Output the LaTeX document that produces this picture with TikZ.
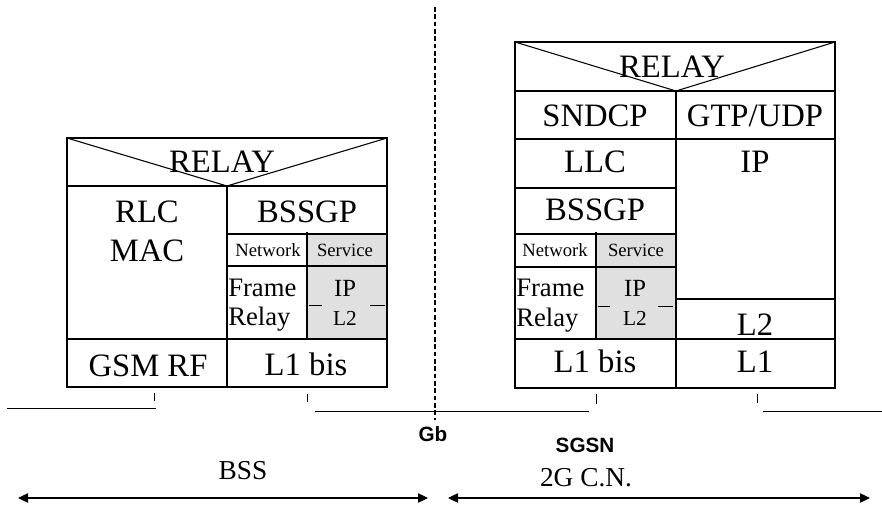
\documentclass[tikz,border=0pt]{standalone}
\usepackage{fontspec}
\setmainfont{Liberation Serif}
\newfontfamily\arialfont{Liberation Sans}
\usetikzlibrary{arrows.meta}
\definecolor{svcgray}{RGB}{224,224,224}
\tikzset{
  box/.style={draw, line width=0.8pt},
  thin/.style={draw, line width=0.75pt},
  txt/.style={anchor=base, inner sep=0pt},
  big/.style={txt, font=\fontsize{24.5pt}{28pt}\selectfont},
  mid/.style={txt, font=\fontsize{20pt}{22pt}\selectfont},
  ipf/.style={txt, font=\fontsize{18.5pt}{20pt}\selectfont},
  ltwo/.style={txt, font=\fontsize{16pt}{18pt}\selectfont},
  small/.style={txt, font=\fontsize{14pt}{16pt}\selectfont},
  lab/.style={txt, font=\fontsize{20.5pt}{24pt}\selectfont},
  sanslab/.style={anchor=center, inner sep=0pt, font=\arialfont\bfseries\fontsize{15.5pt}{18pt}\selectfont},
  span/.style={line width=0.9pt, {Triangle[length=7.5pt,width=7pt]}-{Triangle[length=7.5pt,width=7pt]}}
}
\begin{document}
\begin{tikzpicture}[x=0.75pt,y=-0.75pt]
\useasboundingbox (0,0) rectangle (882,513);

% ---------- left stack (BSS) ----------
\fill[svcgray] (307,234) rectangle (387,339);
\draw[box] (67,138) rectangle (387,387);
\draw[box] (67,186) -- (387,186);
\draw[box] (67,138) -- (227,186) -- (387,138);
\draw[box] (227,186) -- (227,387);
\draw[box] (227,234) -- (387,234);
\draw[box] (227,266) -- (387,266);
\draw[box] (307,232) -- (307,339);
\draw[box] (67,339) -- (387,339);
\draw[thin] (309,306) -- (322,306);
\draw[thin] (370,306) -- (385,306);

\node[big] (lrelay) at (222,173) {RELAY};
\node[big] (lrlc) at (147,222.5) {RLC};
\node[big] (lmac) at (147,262) {MAC};
\node[big] (lbssgp) at (307,223) {BSSGP};
\node[small] (lnet) at (268,256.5) {Network};
\node[small] (lsvc) at (345,256.5) {Service};
\node[mid, anchor=base west] (lframe) at (228,297) {Frame};
\node[mid, anchor=base west] (lrelay2) at (228,326) {Relay};
\node[ipf] (lip) at (345,297) {IP};
\node[ltwo] (ll2) at (345,326) {L2};
\node[big] (lgsm) at (148,377) {GSM RF};
\node[big] (ll1) at (306,376) {L1 bis};

% ---------- right stack (SGSN) ----------
\fill[svcgray] (596,234) rectangle (676,339);
\draw[box] (515,42) rectangle (835,388);
\draw[box] (515,91) -- (835,91);
\draw[box] (515,42) -- (676,91) -- (835,42);
\draw[box] (676,91) -- (676,388);
\draw[box] (515,139) -- (835,139);
\draw[box] (515,188) -- (676,188);
\draw[box] (515,234) -- (676,234);
\draw[box] (515,267) -- (676,267);
\draw[box] (596,232) -- (596,339);
\draw[box] (515,339) -- (835,339);
\draw[box] (676,299) -- (835,299);
\draw[thin] (598,307) -- (610,307);
\draw[thin] (658,307) -- (673,307);

\node[big] (rrelay) at (672,78) {RELAY};
\node[big] (rsndcp) at (595,127) {SNDCP};
\node[big] (rgtp) at (755,127) {GTP/UDP};
\node[big] (rllc) at (595,173) {LLC};
\node[big] (rip) at (755,173) {IP};
\node[big] (rbssgp) at (595,221) {BSSGP};
\node[small] (rnet) at (555,257) {Network};
\node[small] (rsvc) at (636,257) {Service};
\node[mid, anchor=base west] (rframe) at (516,297) {Frame};
\node[mid, anchor=base west] (rrelay2) at (516,327) {Relay};
\node[ipf] (rip2) at (635,297) {IP};
\node[ltwo] (rl2s) at (635,326) {L2};
\node[big] (rl2) at (755,335) {L2};
\node[big] (rl1bis) at (595,373) {L1 bis};
\node[big] (rl1) at (755,373) {L1};

% ---------- physical links ----------
\draw[thin] (7,408) -- (156,408);
\draw[thin] (154,393) -- (154,401);
\draw[thin] (307,394) -- (307,402);
\draw[thin] (315,411) -- (589,411);
\draw[thin] (596,394) -- (596,404);
\draw[thin] (757,394) -- (757,403);
\draw[thin] (763,411) -- (882,411);

% ---------- Gb interface ----------
\draw[line width=0.9pt, dash pattern=on 3.5pt off 2pt] (435,7) -- (435,420);
\node[sanslab] (gb) at (433,434) {Gb};
\node[sanslab] (sgsn) at (585,445) {SGSN};

% ---------- domains ----------
\node[lab] (bss) at (243,479) {BSS};
\node[lab] (cn) at (586,486) {2G C.N.};
\coordinate (bssL) at (18,498);
\coordinate (bssR) at (428,498);
\coordinate (cnL) at (448,498);
\coordinate (cnR) at (870,498);
\draw[span] (bssL) -- (bssR);
\draw[span] (cnL) -- (cnR);
\end{tikzpicture}
\end{document}
